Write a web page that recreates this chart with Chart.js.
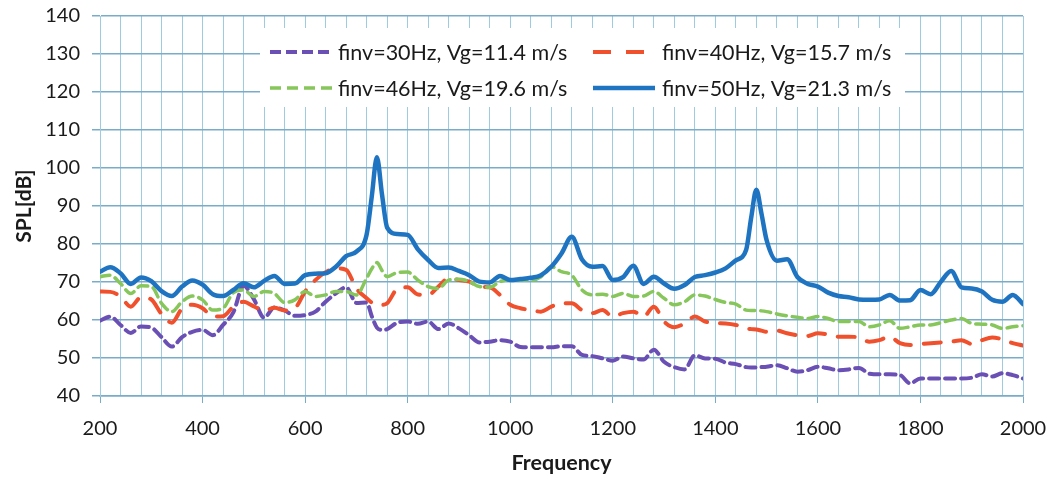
<!DOCTYPE html>
<html>
<head>
<meta charset="utf-8">
<script src="https://cdn.jsdelivr.net/npm/chart.js@4.4.1/dist/chart.umd.min.js"></script>
<style>
  html, body { margin: 0; padding: 0; background: #fff; }
  canvas { display: block; }
</style>
</head>
<body>
<canvas id="spl-chart" width="1051" height="477"></canvas>
<script>
// frequency points (Hz)
const freq = [
  200,220,240,260,280,300,320,340,360,380,
  400,420,440,460,480,500,520,540,560,580,
  600,620,640,660,680,700,720,730,740,750,
  760,780,800,820,840,860,880,900,920,940,
  960,980,1000,1020,1040,1060,1080,1100,1120,1140,
  1160,1180,1200,1220,1240,1260,1280,1300,1320,1340,
  1360,1380,1400,1420,1440,1460,1470,1480,1490,1500,
  1520,1540,1560,1580,1600,1620,1640,1660,1680,1700,
  1720,1740,1760,1780,1800,1820,1840,1860,1880,1900,
  1920,1940,1960,1980,2000
];

// SPL [dB] per series
const spl30 = [
  59.8,60.9,58.7,56.6,58.3,58.0,55.5,53.0,55.5,56.9,
  57.4,56.0,58.7,62.0,69.0,65.5,60.6,63.3,62.5,61.1,
  61.3,62.2,64.8,67.0,68.6,64.5,64.6,61.0,58.0,57.4,
  57.6,59.3,59.6,59.0,59.6,57.6,59.1,57.8,56.0,54.1,
  54.3,54.7,54.3,52.9,52.8,52.8,52.8,53.1,53.1,50.8,
  50.5,49.9,49.3,50.4,49.9,49.6,52.2,49.0,47.6,47.0,
  50.7,49.9,49.8,48.8,48.4,47.6,47.5,47.5,47.6,47.7,
  48.1,47.3,46.4,46.8,47.7,47.3,46.8,47.0,47.4,45.9,
  45.7,45.7,45.5,43.3,44.6,44.6,44.6,44.6,44.6,44.8,
  45.7,45.1,46.0,45.5,44.6
];
const spl40 = [
  67.5,67.4,66.2,63.5,66.0,65.4,61.6,59.3,63.0,64.0,
  63.1,60.9,61.0,63.5,64.8,63.6,62.5,63.2,62.5,63.1,
  67.5,70.5,72.6,73.6,73.2,68.3,65.7,64.6,64.0,64.0,
  64.4,68.2,68.6,66.7,66.6,68.8,71.0,70.5,70.1,68.8,
  68.6,66.6,64.0,63.1,62.6,62.2,63.5,64.4,64.4,62.6,
  61.8,62.6,60.9,61.8,62.2,60.9,63.5,59.6,58.1,59.1,
  60.9,59.6,59.2,59.1,58.7,57.8,57.6,57.5,57.2,56.9,
  57.2,56.5,56.0,55.8,56.5,56.2,55.6,55.6,55.4,54.3,
  54.7,55.6,53.9,53.4,53.7,53.9,54.1,54.3,54.7,53.7,
  54.7,55.4,54.9,53.9,53.3
];
const spl46 = [
  71.4,71.8,69.6,67.0,69.0,68.8,64.4,62.2,64.8,66.3,
  65.3,62.6,63.1,67.2,67.9,66.2,67.5,67.0,64.6,65.3,
  67.5,66.2,66.6,67.5,67.5,66.6,71.0,73.5,75.1,73.0,
  71.4,72.5,72.6,70.5,68.8,68.3,70.5,70.7,70.1,68.8,
  68.6,70.1,70.5,70.5,70.5,71.4,74.0,72.7,71.8,67.9,
  66.6,66.8,66.2,67.0,66.2,66.3,67.5,65.7,64.0,64.8,
  66.6,66.3,65.4,64.6,64.2,62.6,62.5,62.5,62.4,62.2,
  61.6,61.1,60.7,60.4,60.9,60.4,59.6,59.6,59.6,58.2,
  58.7,59.8,57.8,58.2,58.7,58.7,59.3,60.0,60.4,59.1,
  58.9,58.7,57.8,58.2,58.5
];
const spl50 = [
  72.7,73.9,72.3,69.5,71.2,70.2,67.6,66.3,68.8,70.4,
  69.3,66.8,66.3,67.9,69.7,68.6,70.3,71.6,69.5,69.6,
  71.8,72.2,72.3,74.0,76.8,78.0,82.5,92.5,102.8,93.0,
  84.3,82.6,82.4,78.6,75.8,73.7,73.8,72.9,71.8,70.1,
  69.9,71.6,70.5,70.8,71.1,71.8,74.0,77.5,81.9,75.9,
  74.0,74.2,70.5,71.3,74.3,69.5,71.4,69.6,68.2,69.2,
  71.3,71.8,72.5,73.6,75.7,78.4,87.0,94.3,88.0,81.0,
  75.6,76.0,71.3,69.5,68.8,67.2,66.3,66.0,65.4,65.3,
  65.4,66.6,65.1,65.2,67.9,66.8,70.1,72.9,68.6,68.3,
  67.5,65.3,64.8,66.6,64.2
];

const seriesLabels = [
  'finv=30Hz, Vg=11.4 m/s',
  'finv=40Hz, Vg=15.7 m/s',
  'finv=46Hz, Vg=19.6 m/s',
  'finv=50Hz, Vg=21.3 m/s'
];
const seriesColors = ['#6a50b4', '#f0502c', '#86c65a', '#1f74c2'];

const FONT = 'Lato, "Liberation Sans", sans-serif';
const gridV = '#9fcbe0';
const gridH = '#78acc8';

function pts(values) {
  return freq.map((f, i) => ({ x: f, y: values[i] }));
}

const styles = [
  { dash: [10, 6], width: 4 },
  { dash: [17, 13], width: 4 },
  { dash: [10, 6], width: 3.5 },
  { dash: [], width: 4.5 }
];
const allValues = [spl30, spl40, spl46, spl50];

const datasets = allValues.map((vals, i) => ({
  label: seriesLabels[i],
  data: pts(vals),
  borderColor: seriesColors[i],
  borderWidth: styles[i].width,
  borderDash: styles[i].dash,
  borderCapStyle: 'round',
  pointRadius: 0,
  fill: false,
  cubicInterpolationMode: 'monotone',
  order: 3 - i
}));

// legend box drawn inside the plot, 2 x 2 like the original
const boxLegend = {
  id: 'boxLegend',
  afterDatasetsDraw(chart) {
    const ctx = chart.ctx;
    const a = chart.chartArea;
    const bx = a.left + 160, by = a.top + 12;
    ctx.save();
    ctx.fillStyle = '#fff';
    ctx.fillRect(bx, by, 645, 79);
    ctx.font = '21.5px ' + FONT;
    ctx.textBaseline = 'middle';
    const cols = [bx + 10, bx + 333];
    const rows = [by + 24, by + 60];
    const sampleLen = [63, 52, 63, 62];
    const textOff = [68, 69, 68, 69];
    const legendDash = [[11, 5], [18, 15], [11, 6], []];
    for (let i = 0; i < 4; i++) {
      const x = cols[i % 2], y = rows[Math.floor(i / 2)];
      ctx.strokeStyle = seriesColors[i];
      ctx.lineWidth = styles[i].width;
      ctx.setLineDash(legendDash[i]);
      ctx.beginPath();
      ctx.moveTo(x, y);
      ctx.lineTo(x + sampleLen[i], y);
      ctx.stroke();
      ctx.setLineDash([]);
      ctx.fillStyle = '#1a1a1a';
      ctx.fillText(seriesLabels[i], x + textOff[i], y + 1);
    }
    ctx.restore();
  }
};

new Chart(document.getElementById('spl-chart'), {
  type: 'line',
  data: { datasets: datasets },
  options: {
    responsive: false,
    animation: false,
    layout: { padding: { top: 16, right: 28, left: 0, bottom: 0 } },
    plugins: {
      legend: { display: false },
      tooltip: { enabled: false }
    },
    scales: {
      x: {
        type: 'linear',
        min: 200,
        max: 2000,
        afterFit(scale) {
          scale.height = 81;
          scale.paddingLeft = 0;
          scale.paddingRight = 0;
        },
        ticks: {
          stepSize: 40,
          autoSkip: false,
          maxRotation: 0,
          padding: 14,
          color: '#1a1a1a',
          font: { family: FONT, size: 20 },
          callback: v => (v % 200 === 0 ? String(v) : '')
        },
        grid: {
          color: gridV,
          lineWidth: 1,
          tickLength: 7,
          tickColor: c => (c.tick && c.tick.value % 200 === 0 ? gridH : 'rgba(0,0,0,0)')
        },
        border: { color: gridH, width: 1.5 },
        title: {
          display: true,
          text: 'Frequency',
          color: '#1a1a1a',
          font: { family: FONT, size: 21.5, weight: 'bold' },
          padding: { top: 0, bottom: 1 }
        }
      },
      y: {
        min: 40,
        max: 140,
        afterFit(scale) {
          scale.width = 100;
          scale.paddingTop = 0;
          scale.paddingBottom = 0;
        },
        ticks: {
          stepSize: 10,
          padding: 12,
          color: '#1a1a1a',
          font: { family: FONT, size: 20 }
        },
        grid: {
          color: gridH,
          lineWidth: 1.5,
          tickLength: 8
        },
        border: { color: gridV, width: 1 },
        title: {
          display: true,
          text: 'SPL[dB]',
          color: '#1a1a1a',
          font: { family: FONT, size: 21, weight: 'bold' },
          padding: { top: 12, bottom: 0 }
        }
      }
    }
  },
  plugins: [boxLegend]
});
</script>
</body>
</html>
